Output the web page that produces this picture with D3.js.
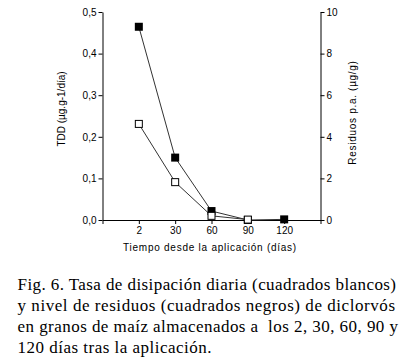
<!DOCTYPE html>
<html>
<head>
<meta charset="utf-8">
<script src="https://cdn.jsdelivr.net/npm/d3@7"></script>
<style>
body { margin: 0; background: #fff; }
svg { display: block; }
.axis text { font-family: "Liberation Sans", Arial, sans-serif; font-size: 10px; fill: #000; }
.axis path, .axis line { stroke: #000; stroke-width: 1; }
</style>
</head>
<body>
<script>
const w = 417;
const h = 364;

// data
const days = ["2", "30", "60", "90", "120"];
const tdd = [0.231, 0.091, 0.010, 0.001];        // white squares, left axis
const residuos = [9.29, 3.0, 0.43, 0.0, 0.03];    // black squares, right axis
const leftTicks = [0, 0.1, 0.2, 0.3, 0.4, 0.5];
const rightTicks = [0, 2, 4, 6, 8, 10];
const caption = [
  "Fig. 6. Tasa de disipación diaria (cuadrados blancos)",
  "y nivel de residuos (cuadrados negros) de diclorvós",
  "en granos de maíz almacenados a  los 2, 30, 60, 90 y",
  "120 días tras la aplicación."
];
const captionWidths = [378.5, 377.5, 380.5, 194];

const padL = 102.5, padR = 320.5, padT = 12, padB = 220;

const x = d3.scaleLinear().domain([0, days.length + 1]).range([padL, padR]);
const yL = d3.scaleLinear().domain([0, 0.5]).range([padB, padT]);
const yR = d3.scaleLinear().domain([0, 10]).range([padB, padT]);

const svg = d3.select("body").append("svg")
  .attr("width", w)
  .attr("height", h);

const fmt = d => d3.format(".1f")(d).replace(".", ",");

svg.append("g")
  .attr("class", "axis")
  .attr("transform", "translate(0," + padB + ")")
  .call(d3.axisBottom(x).tickValues(d3.range(0, days.length + 2))
    .tickFormat(i => (i >= 1 && i <= days.length) ? days[i - 1] : "")
    .tickSize(4).tickSizeOuter(0).tickPadding(3))
  .selectAll("text").attr("dy", "0.72em");

svg.append("g")
  .attr("class", "axis")
  .attr("transform", "translate(" + padL + ",0)")
  .call(d3.axisLeft(yL).tickValues(leftTicks).tickFormat(fmt)
    .tickSize(4).tickSizeOuter(0).tickPadding(2));

svg.append("g")
  .attr("class", "axis")
  .attr("transform", "translate(" + padR + ",0)")
  .call(d3.axisRight(yR).tickValues(rightTicks).tickFormat(d3.format("d"))
    .tickSize(4).tickSizeOuter(0).tickPadding(2));

// axis titles
const sans = "'Liberation Sans', Arial, sans-serif";
svg.append("text")
  .attr("transform", "translate(64.5,109) rotate(-90)")
  .attr("text-anchor", "middle")
  .style("font-family", sans).style("font-size", "10px")
  .text("TDD (µg.g-1/día)");

svg.append("text")
  .attr("transform", "translate(355.5,112.5) rotate(-90)")
  .attr("text-anchor", "middle")
  .style("font-family", sans).style("font-size", "10px")
  .style("letter-spacing", "0.7px")
  .text("Residuos p.a. (µg/g)");

svg.append("text")
  .attr("x", 210)
  .attr("y", 251)
  .attr("text-anchor", "middle")
  .style("font-family", sans).style("font-size", "10px")
  .style("letter-spacing", "0.75px")
  .text("Tiempo desde la aplicación (días)");

// lines and markers
const lineR = d3.line().x((d, i) => x(i + 1)).y(d => yR(d));
const lineL = d3.line().x((d, i) => x(i + 1)).y(d => yL(d));
const sq = 8;

svg.append("path")
  .datum(residuos)
  .attr("d", lineR)
  .attr("fill", "none")
  .attr("stroke", "#333")
  .attr("stroke-width", 1);

svg.append("path")
  .datum(tdd)
  .attr("d", lineL)
  .attr("fill", "none")
  .attr("stroke", "#333")
  .attr("stroke-width", 1);

svg.selectAll(".neg")
  .data(residuos)
  .enter().append("rect")
  .attr("class", "neg")
  .attr("x", (d, i) => x(i + 1) - sq / 2)
  .attr("y", d => yR(d) - sq / 2)
  .attr("width", sq).attr("height", sq)
  .attr("fill", "#000");

svg.selectAll(".blanco")
  .data(tdd)
  .enter().append("rect")
  .attr("class", "blanco")
  .attr("x", (d, i) => x(i + 1) - sq / 2 + 0.5)
  .attr("y", d => yL(d) - sq / 2 + 0.5)
  .attr("width", sq - 1).attr("height", sq - 1)
  .attr("fill", "#fff")
  .attr("stroke", "#000")
  .attr("stroke-width", 1);

// caption, each line stretched to the width it has in the figure
svg.append("g").selectAll("text")
  .data(caption)
  .enter().append("text")
  .attr("x", 17.5)
  .attr("y", (d, i) => 290 + i * 21)
  .attr("textLength", (d, i) => captionWidths[i])
  .attr("lengthAdjust", "spacing")
  .style("font-family", "'Liberation Serif', 'Times New Roman', serif")
  .style("font-size", "17px")
  .style("white-space", "pre")
  .text(d => d);
</script>
</body>
</html>
